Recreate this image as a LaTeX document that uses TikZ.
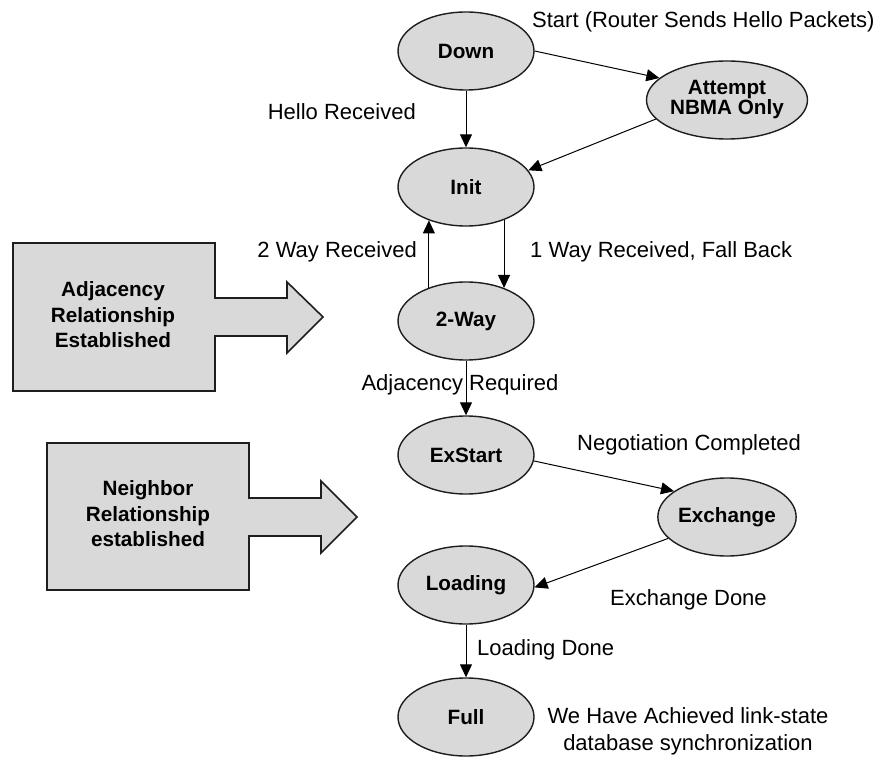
\documentclass[tikz,border=0pt]{standalone}
\usepackage{fontspec}
\setmainfont{Liberation Sans}
\usetikzlibrary{shapes.geometric,arrows.meta}
\definecolor{statefill}{HTML}{D9D9D9}
\definecolor{edgeline}{HTML}{1E1E1E}
\tikzset{
  state/.style={ellipse, draw=edgeline, line width=1.4pt, fill=statefill,
    minimum width=136pt, minimum height=78pt, inner sep=0pt, align=center,
    font=\fontsize{20.7}{22}\selectfont\bfseries},
  lbl/.style={font=\fontsize{22}{27}\selectfont, inner sep=0pt, align=center},
  arr/.style={-{Triangle[length=13pt,width=12pt]}, line width=1pt, draw=black},
  bigarrow/.style={draw=edgeline, line width=1.6pt, fill=statefill, line join=miter},
  boxtext/.style={font=\fontsize{20.7}{25.5}\selectfont\bfseries, align=center, inner sep=0pt}
}
\begin{document}
\begin{tikzpicture}[x=1pt, y=-1pt]
  \useasboundingbox (0,0) rectangle (876,759);

  % side panels: box with a broad arrow pointing at the state column
  \draw[bigarrow] (13,243) -- (215,243) -- (215,298) -- (287,298) -- (287,282)
    -- (323,317) -- (287,353) -- (287,336) -- (215,336) -- (215,391)
    -- (13,391) -- cycle;
  \node[boxtext] (adjbox) at (113,315) {Adjacency\\Relationship\\Established};

  \draw[bigarrow] (47,443) -- (249,443) -- (249,498) -- (321,498) -- (321,481)
    -- (357,517) -- (321,553) -- (321,536) -- (249,536) -- (249,590)
    -- (47,590) -- cycle;
  \node[boxtext] (nbrbox) at (148,514) {Neighbor\\Relationship\\established};

  % neighbor states
  \node[state] (Down)     at (466,51)  {Down};
  \node[state, font=\fontsize{20.7}{20}\selectfont\bfseries] (Attempt) at (727,100) {Attempt\\NBMA Only};
  \node[state] (Init)     at (466,187) {Init};
  \node[state] (TwoWay)   at (466,321) {2-Way};
  \node[state] (ExStart)  at (466,455) {ExStart};
  \node[state] (Exchange) at (727,517) {Exchange};
  \node[state] (Loading)  at (466,585) {Loading};
  \node[state] (Full)     at (466,717) {Full};

  % transitions
  \draw[arr] (Down.east) -- (Attempt.162);
  \draw[arr] (Down) -- (Init);
  \draw[arr] (Attempt.195) -- (Init.15);
  \draw[arr] (Init.-41.5) -- (TwoWay.41.5);
  \draw[arr] (TwoWay.138.5) -- (Init.-138.5);
  \draw[arr] (TwoWay) -- (ExStart);
  \draw[arr] (ExStart.-5) -- (Exchange.154);
  \draw[arr] (Exchange.200) -- (Loading.-2);
  \draw[arr] (Loading) -- (Full);

  % transition labels
  \node[lbl, anchor=west] (lStart) at (532,22) {Start (Router Sends Hello Packets)};
  \node[lbl, anchor=east] (lHello) at (416,112) {Hello Received};
  \node[lbl, anchor=east] (lTwo)   at (417,252) {2 Way Received};
  \node[lbl, anchor=west] (lOne)   at (530,252) {1 Way Received, Fall Back};
  \node[lbl] (lAdj)  at (460,385) {Adjacency Required};
  \node[lbl, anchor=west] (lNeg)   at (577,445) {Negotiation Completed};
  \node[lbl, anchor=west] (lExD)   at (610,600) {Exchange Done};
  \node[lbl, anchor=west] (lLoad)  at (477,650) {Loading Done};
  \node[lbl] (lFull) at (688,731) {We Have Achieved link-state\\database synchronization};
\end{tikzpicture}
\end{document}
